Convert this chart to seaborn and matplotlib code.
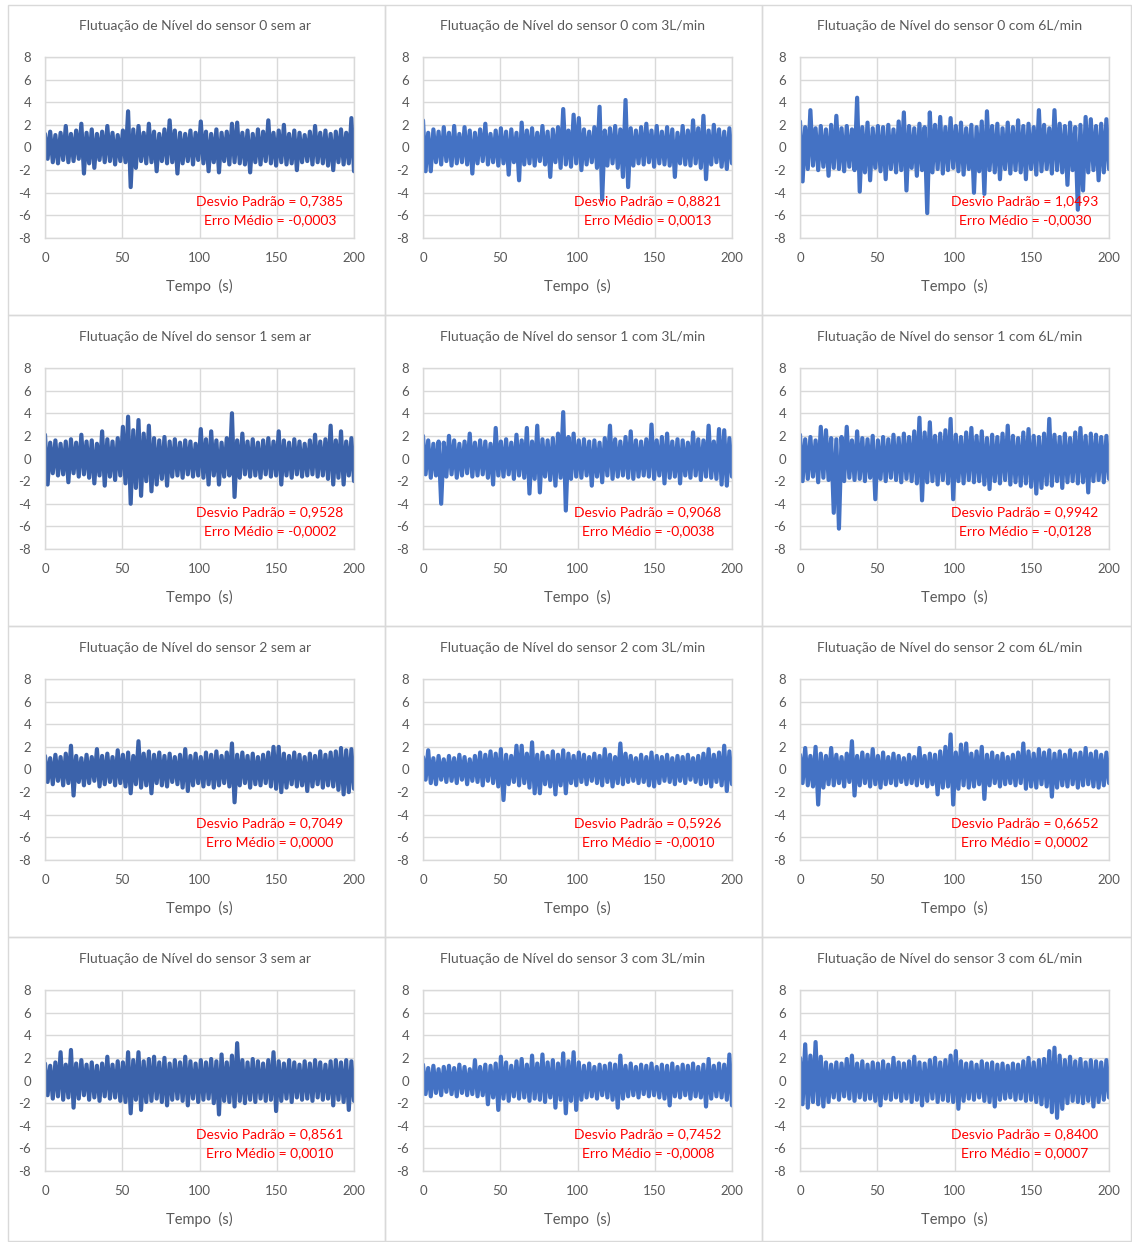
import numpy as np
import matplotlib
matplotlib.use('Agg')
import matplotlib.pyplot as plt
import seaborn as sns

sns.set_style('white')
plt.rcParams['font.family'] = ['Lato', 'DejaVu Sans']
plt.rcParams['axes.unicode_minus'] = False

# level fluctuation, alternating peak / trough (60 pairs over 200 s)
s0_sem = [1.2,-1.0, 1.4,-1.3, 1.1,-1.4, 1.3,-1.1, 1.9,-1.3, 1.2,-1.2, 1.5,-1.0, 2.1,-2.3, 1.3,-1.4, 1.6,-1.8,
          1.2,-1.1, 1.4,-1.3, 1.9,-1.2, 1.3,-1.5, 1.1,-1.2, 1.5,-1.3, 3.2,-3.5, 1.6,-1.8, 1.9,-1.2, 1.3,-1.4,
          2.1,-1.3, 1.4,-2.1, 1.2,-1.2, 1.6,-1.4, 2.4,-1.3, 1.5,-2.3, 1.3,-1.4, 1.2,-1.2, 1.5,-1.5, 1.3,-1.1,
          2.3,-1.4, 1.4,-2.1, 1.2,-1.3, 1.6,-2.2, 1.3,-1.2, 1.4,-1.5, 2.1,-1.3, 2.2,-1.4, 1.3,-1.5, 1.5,-2.2,
          1.2,-1.3, 1.6,-1.5, 1.4,-1.2, 2.4,-1.4, 1.3,-1.6, 1.5,-1.3, 2.0,-1.5, 1.2,-1.4, 1.5,-2.0, 1.3,-1.3,
          1.1,-1.2, 1.4,-1.5, 1.9,-1.3, 1.3,-1.4, 1.5,-1.6, 1.2,-2.0, 1.4,-1.3, 1.6,-1.5, 1.3,-1.4, 2.6,-2.1]
s0_3l = [2.4,-2.1, 1.3,-2.1, 1.6,-1.3, 1.4,-1.5, 1.8,-1.2, 1.3,-1.6, 1.9,-1.4, 1.2,-1.3, 1.8,-1.5, 1.5,-2.3,
         1.3,-1.4, 1.6,-1.2, 2.1,-1.5, 1.2,-1.3, 1.5,-1.6, 1.7,-1.4, 1.4,-2.4, 1.6,-1.3, 1.3,-2.9, 2.2,-1.5,
         1.5,-1.4, 1.7,-1.6, 1.3,-1.2, 1.9,-1.5, 1.4,-2.6, 1.6,-1.3, 1.8,-1.8, 3.4,-1.5, 1.5,-1.7, 2.9,-1.4,
         2.6,-2.0, 1.6,-1.5, 1.4,-1.3, 1.8,-1.8, 3.6,-4.6, 1.5,-1.6, 1.7,-1.4, 1.9,-1.8, 1.6,-2.6, 4.2,-3.5,
         1.7,-1.6, 1.5,-1.4, 1.8,-1.5, 2.1,-1.3, 1.5,-1.7, 1.9,-1.4, 1.4,-1.5, 1.8,-1.6, 1.6,-2.6, 1.3,-1.4,
         1.9,-1.5, 1.5,-1.6, 2.4,-1.4, 1.7,-1.8, 2.8,-2.8, 1.5,-1.5, 2.0,-1.3, 1.6,-1.7, 1.4,-1.9, 1.7,-1.4]
s0_6l = [2.3,-3.0, 1.8,-1.9, 3.3,-1.6, 1.7,-2.0, 1.9,-1.7, 1.6,-2.5, 2.0,-1.8, 2.8,-1.9, 1.7,-2.1, 1.9,-1.7,
         1.6,-2.0, 4.4,-3.9, 1.8,-2.2, 2.2,-2.9, 1.7,-1.8, 1.9,-2.1, 1.8,-2.8, 2.0,-1.9, 1.6,-2.2, 2.3,-2.0,
         3.1,-3.8, 1.9,-1.8, 1.7,-2.5, 2.1,-2.0, 1.8,-5.8, 3.1,-2.2, 2.0,-1.9, 2.7,-2.3, 1.8,-2.0, 2.6,-1.8,
         1.9,-2.1, 2.2,-2.4, 1.7,-1.9, 2.0,-4.0, 1.8,-2.1, 2.3,-4.1, 3.2,-2.0, 1.9,-2.2, 2.1,-2.8, 1.7,-1.9,
         2.2,-2.3, 1.8,-2.0, 2.4,-2.2, 1.9,-2.8, 2.1,-1.9, 1.8,-2.4, 3.3,-2.1, 2.0,-1.9, 1.7,-2.3, 3.3,-2.0,
         2.1,-2.2, 1.9,-3.3, 2.2,-2.0, 1.8,-5.5, 2.0,-3.8, 2.7,-2.2, 2.5,-2.0, 1.9,-2.9, 2.1,-2.2, 2.5,-1.9]
s1_sem = [2.1,-2.3, 1.4,-1.3, 1.6,-1.5, 1.3,-1.4, 1.5,-2.1, 1.7,-1.3, 1.4,-1.6, 2.1,-1.4, 1.5,-1.7, 1.6,-2.2,
          1.3,-1.5, 2.4,-2.4, 1.7,-1.6, 1.5,-1.9, 1.8,-1.5, 2.8,-2.2, 3.7,-4.0, 2.5,-2.6, 3.4,-3.3, 2.2,-2.0,
          2.9,-2.9, 1.8,-2.3, 1.6,-1.8, 1.9,-2.4, 1.5,-1.6, 1.7,-1.5, 1.4,-1.7, 1.6,-1.4, 1.5,-1.6, 1.3,-1.5,
          2.6,-1.7, 1.7,-2.3, 2.4,-1.5, 1.6,-2.3, 1.4,-1.6, 1.8,-1.5, 4.0,-3.4, 1.6,-1.7, 2.2,-1.4, 1.5,-1.6,
          1.7,-1.5, 1.4,-1.7, 1.6,-1.4, 1.8,-1.6, 1.5,-1.5, 2.4,-2.3, 1.6,-1.5, 1.4,-1.7, 1.7,-1.4, 1.5,-1.6,
          1.3,-1.5, 1.6,-1.4, 2.1,-1.6, 1.5,-1.5, 1.7,-1.8, 2.9,-2.3, 1.6,-1.7, 2.4,-2.3, 1.5,-1.5, 1.8,-2.0]
s1_3l = [2.0,-1.4, 1.6,-1.7, 1.3,-1.5, 1.5,-4.0, 1.4,-1.6, 2.0,-1.4, 1.6,-1.7, 1.3,-1.5, 1.5,-1.3, 2.2,-1.6,
         1.4,-1.5, 1.6,-1.4, 1.5,-1.7, 1.3,-2.3, 2.7,-1.5, 1.5,-1.6, 1.7,-1.4, 1.4,-1.8, 2.1,-1.5, 1.6,-1.7,
         2.7,-3.1, 1.5,-1.8, 2.9,-3.0, 1.7,-1.6, 1.6,-1.9, 1.8,-2.4, 2.2,-1.7, 4.1,-4.6, 1.9,-1.8, 2.2,-1.6,
         1.6,-1.7, 1.7,-1.5, 1.5,-2.4, 1.6,-1.6, 1.4,-2.1, 1.8,-1.5, 2.9,-1.8, 1.7,-1.6, 1.5,-1.5, 1.9,-1.7,
         2.4,-1.8, 1.6,-1.6, 1.5,-1.5, 1.7,-1.6, 3.0,-1.8, 1.6,-1.5, 1.9,-2.2, 2.2,-1.7, 1.5,-1.6, 1.7,-2.2,
         1.6,-1.5, 1.4,-1.7, 2.3,-1.5, 1.7,-1.9, 1.6,-1.6, 2.9,-1.7, 1.5,-1.8, 2.6,-2.3, 2.5,-2.4, 1.8,-1.6]
s1_6l = [2.1,-2.0, 1.7,-1.8, 1.9,-1.6, 1.6,-2.1, 2.8,-1.7, 2.5,-1.9, 1.8,-4.8, 1.7,-6.2, 1.9,-2.0, 2.8,-1.7,
         1.6,-1.9, 2.4,-1.8, 1.8,-2.0, 1.7,-1.7, 2.0,-3.6, 1.6,-1.8, 1.9,-2.0, 1.7,-1.7, 2.1,-1.9, 1.8,-2.1,
         2.2,-1.8, 1.9,-2.0, 2.4,-2.2, 3.6,-3.7, 2.3,-2.1, 3.2,-2.0, 2.0,-2.3, 2.2,-1.9, 2.5,-2.2, 3.5,-3.6,
         2.1,-2.0, 1.9,-2.2, 2.3,-1.9, 2.7,-2.1, 2.0,-2.0, 2.4,-2.3, 1.8,-2.7, 2.1,-2.0, 1.9,-2.2, 2.2,-1.9,
         2.9,-2.3, 2.0,-2.1, 1.8,-2.4, 2.3,-2.2, 2.6,-2.5, 2.0,-3.1, 1.9,-2.6, 2.2,-2.3, 3.5,-2.4, 2.1,-2.0,
         1.9,-2.6, 2.2,-2.1, 1.8,-2.0, 2.3,-2.2, 2.7,-2.1, 2.0,-3.0, 2.2,-2.0, 2.1,-1.9, 1.9,-2.1, 2.0,-1.8]
s2_sem = [1.2,-1.1, 1.0,-1.3, 1.3,-1.0, 1.1,-1.4, 1.4,-1.2, 2.1,-2.3, 1.2,-1.1, 1.0,-1.4, 1.3,-1.2, 1.1,-1.0,
          1.8,-1.5, 1.2,-1.3, 1.4,-1.1, 1.1,-1.4, 1.7,-1.2, 1.3,-1.5, 1.5,-2.1, 1.2,-1.3, 2.5,-1.6, 1.4,-1.4,
          1.6,-2.1, 1.3,-1.2, 1.5,-1.4, 1.2,-1.5, 1.4,-1.1, 1.1,-1.3, 1.3,-1.6, 1.8,-1.9, 1.2,-1.4, 1.4,-1.2,
          1.1,-1.5, 1.5,-1.3, 1.3,-1.6, 1.6,-1.4, 1.2,-1.2, 1.5,-1.5, 2.3,-2.9, 1.3,-1.4, 1.5,-1.2, 1.2,-1.6,
          1.4,-1.3, 1.1,-1.4, 1.3,-1.2, 1.5,-1.5, 2.0,-1.7, 2.0,-2.0, 1.4,-1.6, 1.2,-1.3, 1.5,-1.5, 1.3,-1.4,
          1.1,-1.9, 1.4,-1.5, 1.2,-1.3, 1.6,-1.6, 1.3,-1.4, 1.5,-1.5, 1.6,-1.8, 1.9,-2.2, 1.7,-2.0, 1.8,-1.7]
s2_3l = [1.1,-0.9, 1.7,-1.2, 1.0,-1.3, 1.2,-0.9, 0.9,-1.1, 1.2,-1.0, 1.0,-1.2, 1.3,-0.9, 1.1,-1.3, 0.9,-1.0,
         1.2,-1.1, 1.5,-1.4, 1.3,-1.0, 1.6,-1.2, 1.4,-1.5, 1.8,-2.7, 1.3,-1.3, 1.2,-1.1, 2.1,-1.4, 2.1,-1.2,
         1.4,-1.6, 2.4,-2.1, 1.3,-2.1, 1.5,-1.3, 1.2,-1.5, 1.6,-2.2, 1.3,-1.4, 1.7,-2.1, 1.4,-1.2, 1.2,-1.4,
         1.5,-1.1, 1.3,-1.3, 1.1,-1.0, 1.4,-1.2, 1.2,-1.4, 1.8,-1.1, 1.3,-1.5, 1.1,-1.2, 2.3,-1.3, 1.4,-1.1,
         1.2,-1.0, 1.0,-1.2, 1.3,-1.1, 1.1,-1.4, 1.5,-1.5, 1.2,-1.2, 1.1,-1.0, 1.3,-1.1, 1.0,-1.3, 1.2,-1.0,
         1.1,-1.2, 1.3,-0.9, 1.0,-1.1, 1.2,-1.3, 1.4,-1.2, 1.8,-1.5, 1.3,-1.1, 1.5,-1.4, 2.1,-1.9, 1.6,-1.3]
s2_6l = [1.3,-1.2, 1.9,-1.4, 1.2,-1.5, 2.0,-3.1, 1.4,-1.6, 1.2,-1.3, 1.9,-1.4, 1.3,-1.2, 1.1,-1.5, 1.4,-1.1,
         2.5,-2.3, 1.2,-1.4, 1.5,-1.2, 1.3,-1.5, 1.8,-1.3, 1.2,-1.6, 1.5,-1.3, 1.1,-1.2, 1.4,-1.4, 1.2,-1.1,
         1.0,-1.3, 1.3,-1.2, 1.1,-1.4, 1.9,-1.2, 1.2,-1.5, 1.4,-1.3, 1.3,-2.2, 1.6,-1.6, 2.0,-1.5, 3.1,-3.1,
         1.5,-1.7, 2.2,-1.4, 2.3,-1.6, 1.4,-1.5, 1.6,-1.3, 2.0,-2.6, 1.3,-1.4, 1.5,-1.2, 1.2,-1.5, 1.4,-1.3,
         1.1,-1.2, 1.3,-1.4, 1.5,-1.2, 2.3,-1.7, 1.6,-1.5, 1.4,-1.6, 1.8,-1.3, 1.5,-1.5, 1.7,-2.4, 1.4,-1.6,
         1.6,-1.4, 1.3,-1.5, 1.7,-1.3, 1.4,-1.6, 1.5,-1.4, 1.9,-1.3, 1.4,-1.5, 1.6,-1.6, 1.3,-1.4, 1.5,-1.2]
s3_sem = [1.5,-1.3, 1.3,-1.6, 1.6,-1.4, 2.5,-1.7, 1.4,-1.5, 2.7,-2.4, 1.5,-1.6, 1.8,-1.3, 1.4,-1.7, 1.6,-1.5,
          1.3,-1.8, 1.5,-1.4, 2.1,-1.6, 1.4,-1.5, 1.7,-1.8, 1.6,-1.9, 2.5,-2.9, 1.8,-1.7, 2.5,-2.6, 1.7,-1.9,
          1.9,-1.8, 2.1,-1.6, 1.6,-1.9, 2.0,-2.2, 1.5,-1.7, 1.8,-1.6, 1.6,-1.8, 2.1,-2.2, 1.7,-1.6, 1.5,-1.9,
          1.8,-1.7, 1.6,-1.6, 1.9,-2.0, 1.7,-3.0, 2.3,-1.8, 1.6,-1.9, 2.2,-2.3, 3.3,-1.8, 1.8,-2.0, 1.6,-1.7,
          1.9,-1.9, 1.7,-1.6, 1.5,-1.8, 1.8,-1.7, 2.5,-2.7, 1.7,-1.8, 1.5,-1.6, 1.8,-1.9, 1.6,-1.5, 1.4,-1.7,
          1.7,-1.6, 1.5,-1.8, 1.8,-1.5, 1.6,-1.7, 1.4,-1.6, 1.7,-2.2, 1.8,-1.7, 1.6,-1.9, 1.8,-2.6, 1.7,-1.8]
s3_3l = [1.4,-1.2, 1.1,-1.4, 1.3,-1.1, 1.0,-1.3, 1.2,-1.0, 1.3,-1.2, 1.1,-1.4, 1.4,-1.1, 1.2,-1.3, 1.0,-1.2,
         1.8,-1.4, 1.2,-1.3, 1.4,-2.1, 1.3,-1.5, 1.5,-2.6, 2.1,-1.6, 1.6,-1.8, 1.3,-1.4, 1.7,-1.6, 1.9,-1.5,
         1.4,-1.8, 2.2,-1.6, 1.5,-1.7, 2.3,-1.9, 1.6,-1.5, 1.8,-2.4, 1.5,-1.7, 2.4,-2.9, 1.7,-1.8, 2.5,-2.6,
         1.6,-1.7, 1.3,-1.5, 1.5,-1.4, 1.2,-1.6, 1.4,-1.3, 1.3,-1.5, 1.5,-1.7, 1.4,-2.4, 2.2,-1.6, 1.3,-1.4,
         1.5,-1.3, 1.2,-1.5, 1.4,-1.2, 1.3,-1.4, 1.5,-1.3, 1.2,-1.5, 1.4,-1.6, 1.3,-2.2, 1.5,-1.4, 1.2,-1.5,
         1.4,-1.3, 1.3,-1.6, 1.5,-1.4, 1.2,-1.5, 1.4,-2.3, 1.9,-1.6, 1.3,-1.4, 1.5,-1.5, 1.4,-1.7, 2.3,-2.2]
s3_6l = [2.0,-2.1, 3.2,-2.4, 2.2,-1.9, 3.4,-2.1, 2.1,-2.3, 1.6,-1.9, 1.4,-1.5, 1.6,-1.7, 1.5,-1.4, 1.9,-1.6,
         2.2,-1.8, 1.5,-1.5, 1.7,-1.7, 1.4,-1.6, 1.6,-1.8, 1.5,-2.2, 1.7,-1.6, 1.4,-1.7, 2.0,-1.5, 1.6,-1.8,
         1.5,-1.6, 1.7,-1.9, 2.1,-1.7, 1.6,-2.2, 1.5,-1.8, 1.8,-1.6, 2.0,-1.9, 1.6,-1.7, 1.8,-1.8, 2.2,-1.9,
         2.6,-2.5, 1.7,-1.8, 1.5,-1.6, 1.6,-1.7, 1.4,-1.5, 1.7,-1.8, 1.5,-1.9, 1.6,-2.3, 1.4,-1.7, 1.5,-1.6,
         1.3,-1.5, 1.5,-1.7, 1.4,-1.6, 1.7,-1.8, 2.0,-1.7, 1.6,-1.9, 1.8,-2.1, 1.9,-2.3, 2.6,-2.8, 2.9,-3.3,
         2.2,-2.5, 1.8,-2.0, 2.1,-1.8, 1.7,-1.9, 1.9,-2.0, 1.6,-1.8, 1.8,-2.3, 1.7,-1.9, 1.6,-1.7, 1.8,-1.5]

series = [s0_sem, s0_3l, s0_6l, s1_sem, s1_3l, s1_6l,
          s2_sem, s2_3l, s2_6l, s3_sem, s3_3l, s3_6l]
sensors = ['0', '1', '2', '3']
conditions = ['sem ar', 'com 3L/min', 'com 6L/min']
desvio = ['0,7385', '0,8821', '1,0493', '0,9528', '0,9068', '0,9942',
          '0,7049', '0,5926', '0,6652', '0,8561', '0,7452', '0,8400']
erro = ['-0,0003', '0,0013', '-0,0030', '-0,0002', '-0,0038', '-0,0128',
        '0,0000', '-0,0010', '0,0002', '0,0010', '-0,0008', '0,0007']

W, H = 1132, 1242
fig = plt.figure(figsize=(W / 100, H / 100), dpi=100)
grey = '#595959'
grid = '#D9D9D9'

col_x = [45, 423, 800]
cell_x = [8, 385, 762, 1131]
cell_y = [5, 315, 626, 937, 1241]

# chart borders
for r in range(4):
    for c in range(3):
        x0, x1 = cell_x[c], cell_x[c + 1]
        y0, y1 = cell_y[r], cell_y[r + 1]
        fig.add_artist(plt.Rectangle((x0 / W, 1 - y1 / H), (x1 - x0) / W, (y1 - y0) / H,
                                     transform=fig.transFigure, fill=False, ec=grid, lw=1))

for i, vals in enumerate(series):
    r, c = divmod(i, 3)
    top = 57 + 311 * r
    ax = fig.add_axes([col_x[c] / W, 1 - (top + 181) / H, 309 / W, 181 / H])
    t = np.linspace(0, 200, len(vals))
    color = '#3B62AA' if c == 0 else '#4472C4'
    sns.lineplot(x=t, y=vals, ax=ax, color=color, linewidth=3.0, estimator=None, sort=False)
    ax.set_xlim(0, 200)
    ax.set_ylim(-8, 8)
    ax.set_xticks(range(0, 201, 50))
    ax.set_yticks(range(-8, 9, 2))
    ax.grid(True, color=grid, lw=1)
    ax.set_axisbelow(True)
    for sp in ax.spines.values():
        sp.set_color(grid)
        sp.set_linewidth(1)
    ax.tick_params(length=0, pad=10, labelsize=9.5, labelcolor=grey)
    ax.set_xlabel('Tempo  (s)', fontsize=10.5, color=grey)
    ax.xaxis.set_label_coords(0.5, -0.225)
    ax.set_ylabel('')
    ax.text(0.728, 0.205, f'Desvio Padrão = {desvio[i]}', transform=ax.transAxes,
            ha='center', va='center', color='#FF0000', fontsize=10)
    ax.text(0.728, 0.10, f'Erro Médio = {erro[i]}', transform=ax.transAxes,
            ha='center', va='center', color='#FF0000', fontsize=10)
    title = f'Flutuação de Nível do sensor {sensors[r]} {conditions[c]}'
    fig.text((col_x[c] + 150) / W, 1 - (26 + 311 * r) / H, title,
             ha='center', va='center', fontsize=10, color=grey)

fig.savefig('out.png', dpi=100)
